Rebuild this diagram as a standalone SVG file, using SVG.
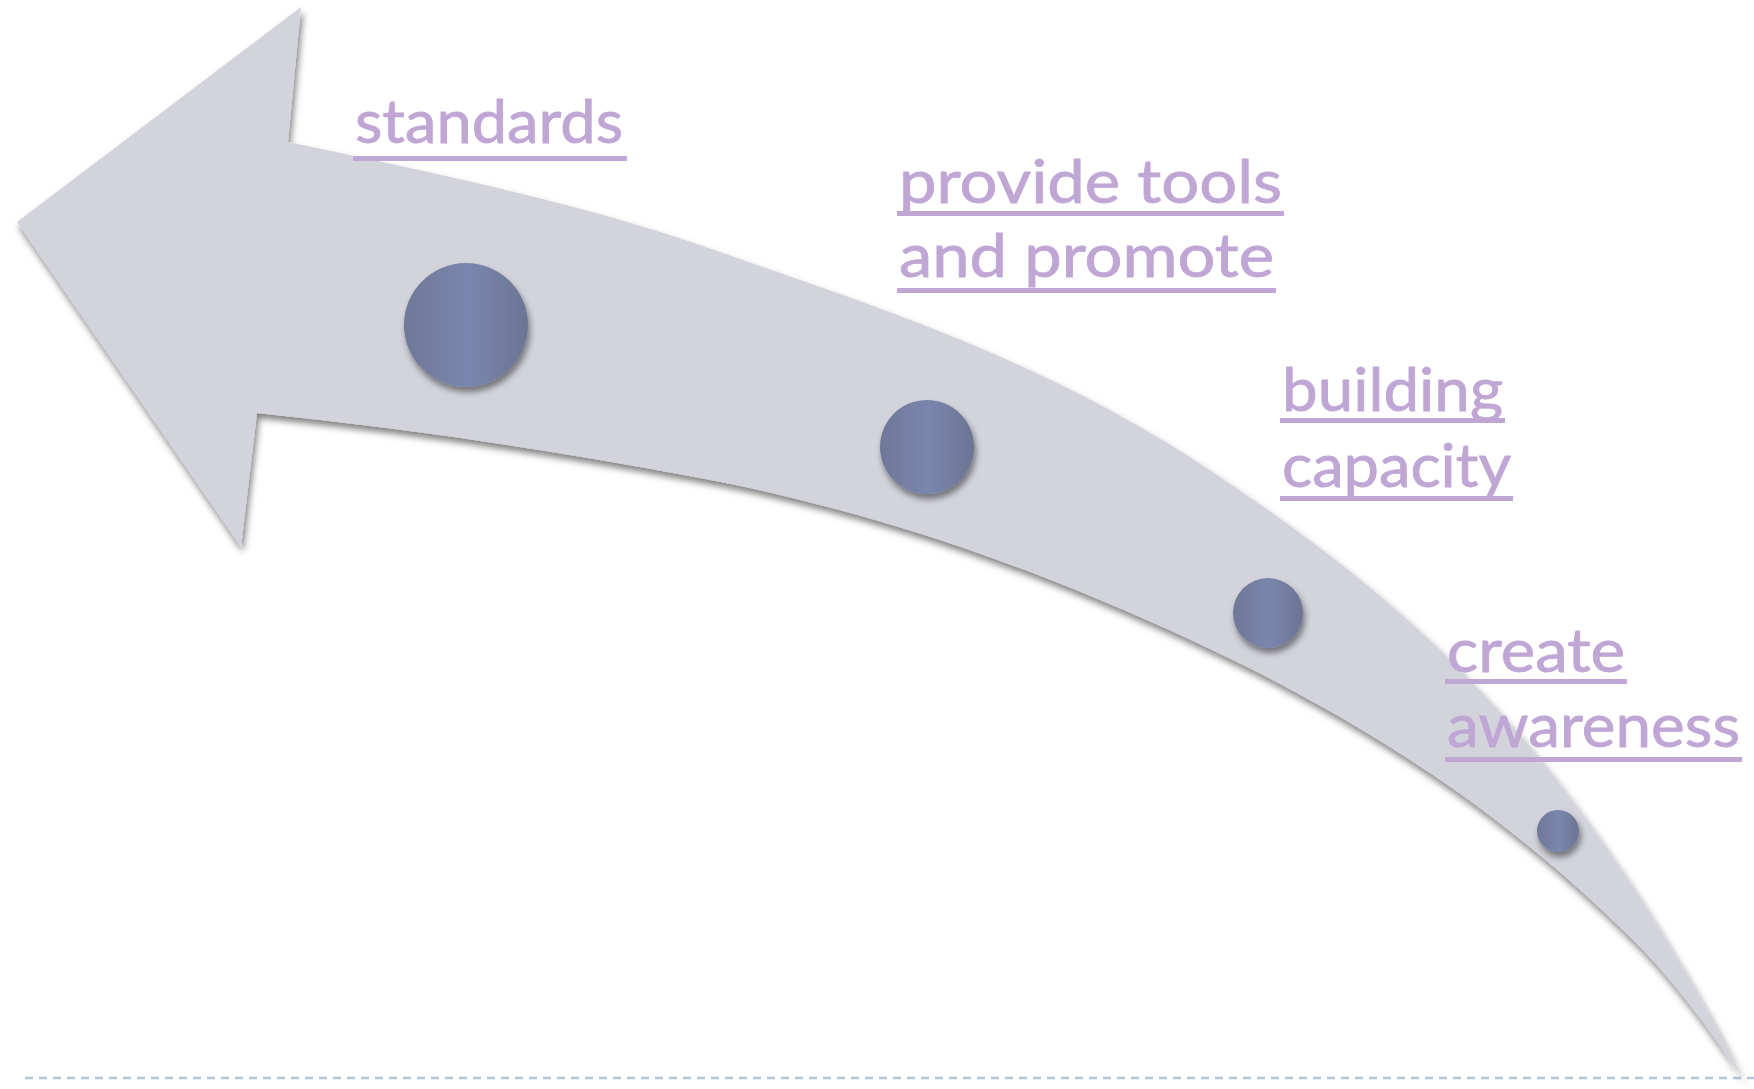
<svg xmlns="http://www.w3.org/2000/svg" width="1754" height="1089" viewBox="0 0 1754 1089">
  <defs>
    <filter id="arrowShadow" x="-5%" y="-5%" width="110%" height="115%">
      <feDropShadow dx="2" dy="5" stdDeviation="3.5" flood-color="#000" flood-opacity="0.5"/>
    </filter>
    <filter id="dotShadow" x="-30%" y="-30%" width="160%" height="170%">
      <feDropShadow dx="2" dy="5" stdDeviation="3" flood-color="#000" flood-opacity="0.45"/>
    </filter>
    <linearGradient id="dotFill" x1="0" y1="0" x2="1" y2="0">
      <stop offset="0" stop-color="#6e7898"/>
      <stop offset="0.52" stop-color="#7a86ad"/>
      <stop offset="1" stop-color="#6b7493"/>
    </linearGradient>
    <style>
      .label { font-family: Lato, "Liberation Sans", "DejaVu Sans", sans-serif; font-size: 60px; fill: #bfa6d4; stroke: #bfa6d4; stroke-width: 0.8px; }
      .uline { fill: #bfa6d4; }
      .dot { fill: url(#dotFill); filter: url(#dotShadow); }
    </style>
  </defs>

  <rect width="1754" height="1089" fill="#ffffff"/>

  <g id="baseline">
    <line x1="25" y1="1078" x2="1754" y2="1078" stroke="#b3c7dc" stroke-width="2.5" stroke-dasharray="8 6"/>
  </g>

  <g id="connectors">
    <path id="curved-arrow" filter="url(#arrowShadow)" fill="#d2d3db"
      d="M 288 142
         C 420 170 580 203 700 245
         C 873 306 1047 359 1220 477
         C 1323 547 1427 623 1530 747
         C 1601 832 1678 950 1744 1080
         C 1702 1018 1667 973 1630 937
         C 1563 871 1497 818 1430 773
         C 1320 699 1210 646 1100 600
         C 967 544 833 503 700 478
         C 552 450 405 428 257 413
         L 241 547
         L 17 222
         L 301 7
         Z"/>
  </g>

  <g id="node-standards">
    <circle class="dot" cx="466" cy="325" r="62"/>
    <text class="label" x="355" y="143" textLength="268" lengthAdjust="spacingAndGlyphs">standards</text>
    <rect class="uline" x="353" y="156" width="274" height="5"/>
  </g>

  <g id="node-provide-tools">
    <circle class="dot" cx="927" cy="447" r="47"/>
    <text class="label" x="899" y="203" textLength="383" lengthAdjust="spacingAndGlyphs">provide tools</text>
    <rect class="uline" x="897" y="211" width="387" height="5"/>
    <text class="label" x="899" y="277" textLength="375" lengthAdjust="spacingAndGlyphs">and promote</text>
    <rect class="uline" x="897" y="288" width="379" height="5"/>
  </g>

  <g id="node-building-capacity">
    <circle class="dot" cx="1268" cy="613" r="35"/>
    <text class="label" x="1282" y="411" textLength="221" lengthAdjust="spacingAndGlyphs">building</text>
    <rect class="uline" x="1280" y="418" width="225" height="5"/>
    <text class="label" x="1282" y="487" textLength="229" lengthAdjust="spacingAndGlyphs">capacity</text>
    <rect class="uline" x="1280" y="496" width="233" height="5"/>
  </g>

  <g id="node-create-awareness">
    <circle class="dot" cx="1558" cy="831" r="21"/>
    <text class="label" x="1447" y="672" textLength="178" lengthAdjust="spacingAndGlyphs">create</text>
    <rect class="uline" x="1445" y="679" width="182" height="5"/>
    <text class="label" x="1447" y="747" textLength="293" lengthAdjust="spacingAndGlyphs">awareness</text>
    <rect class="uline" x="1445" y="757" width="297" height="5"/>
  </g>
</svg>
